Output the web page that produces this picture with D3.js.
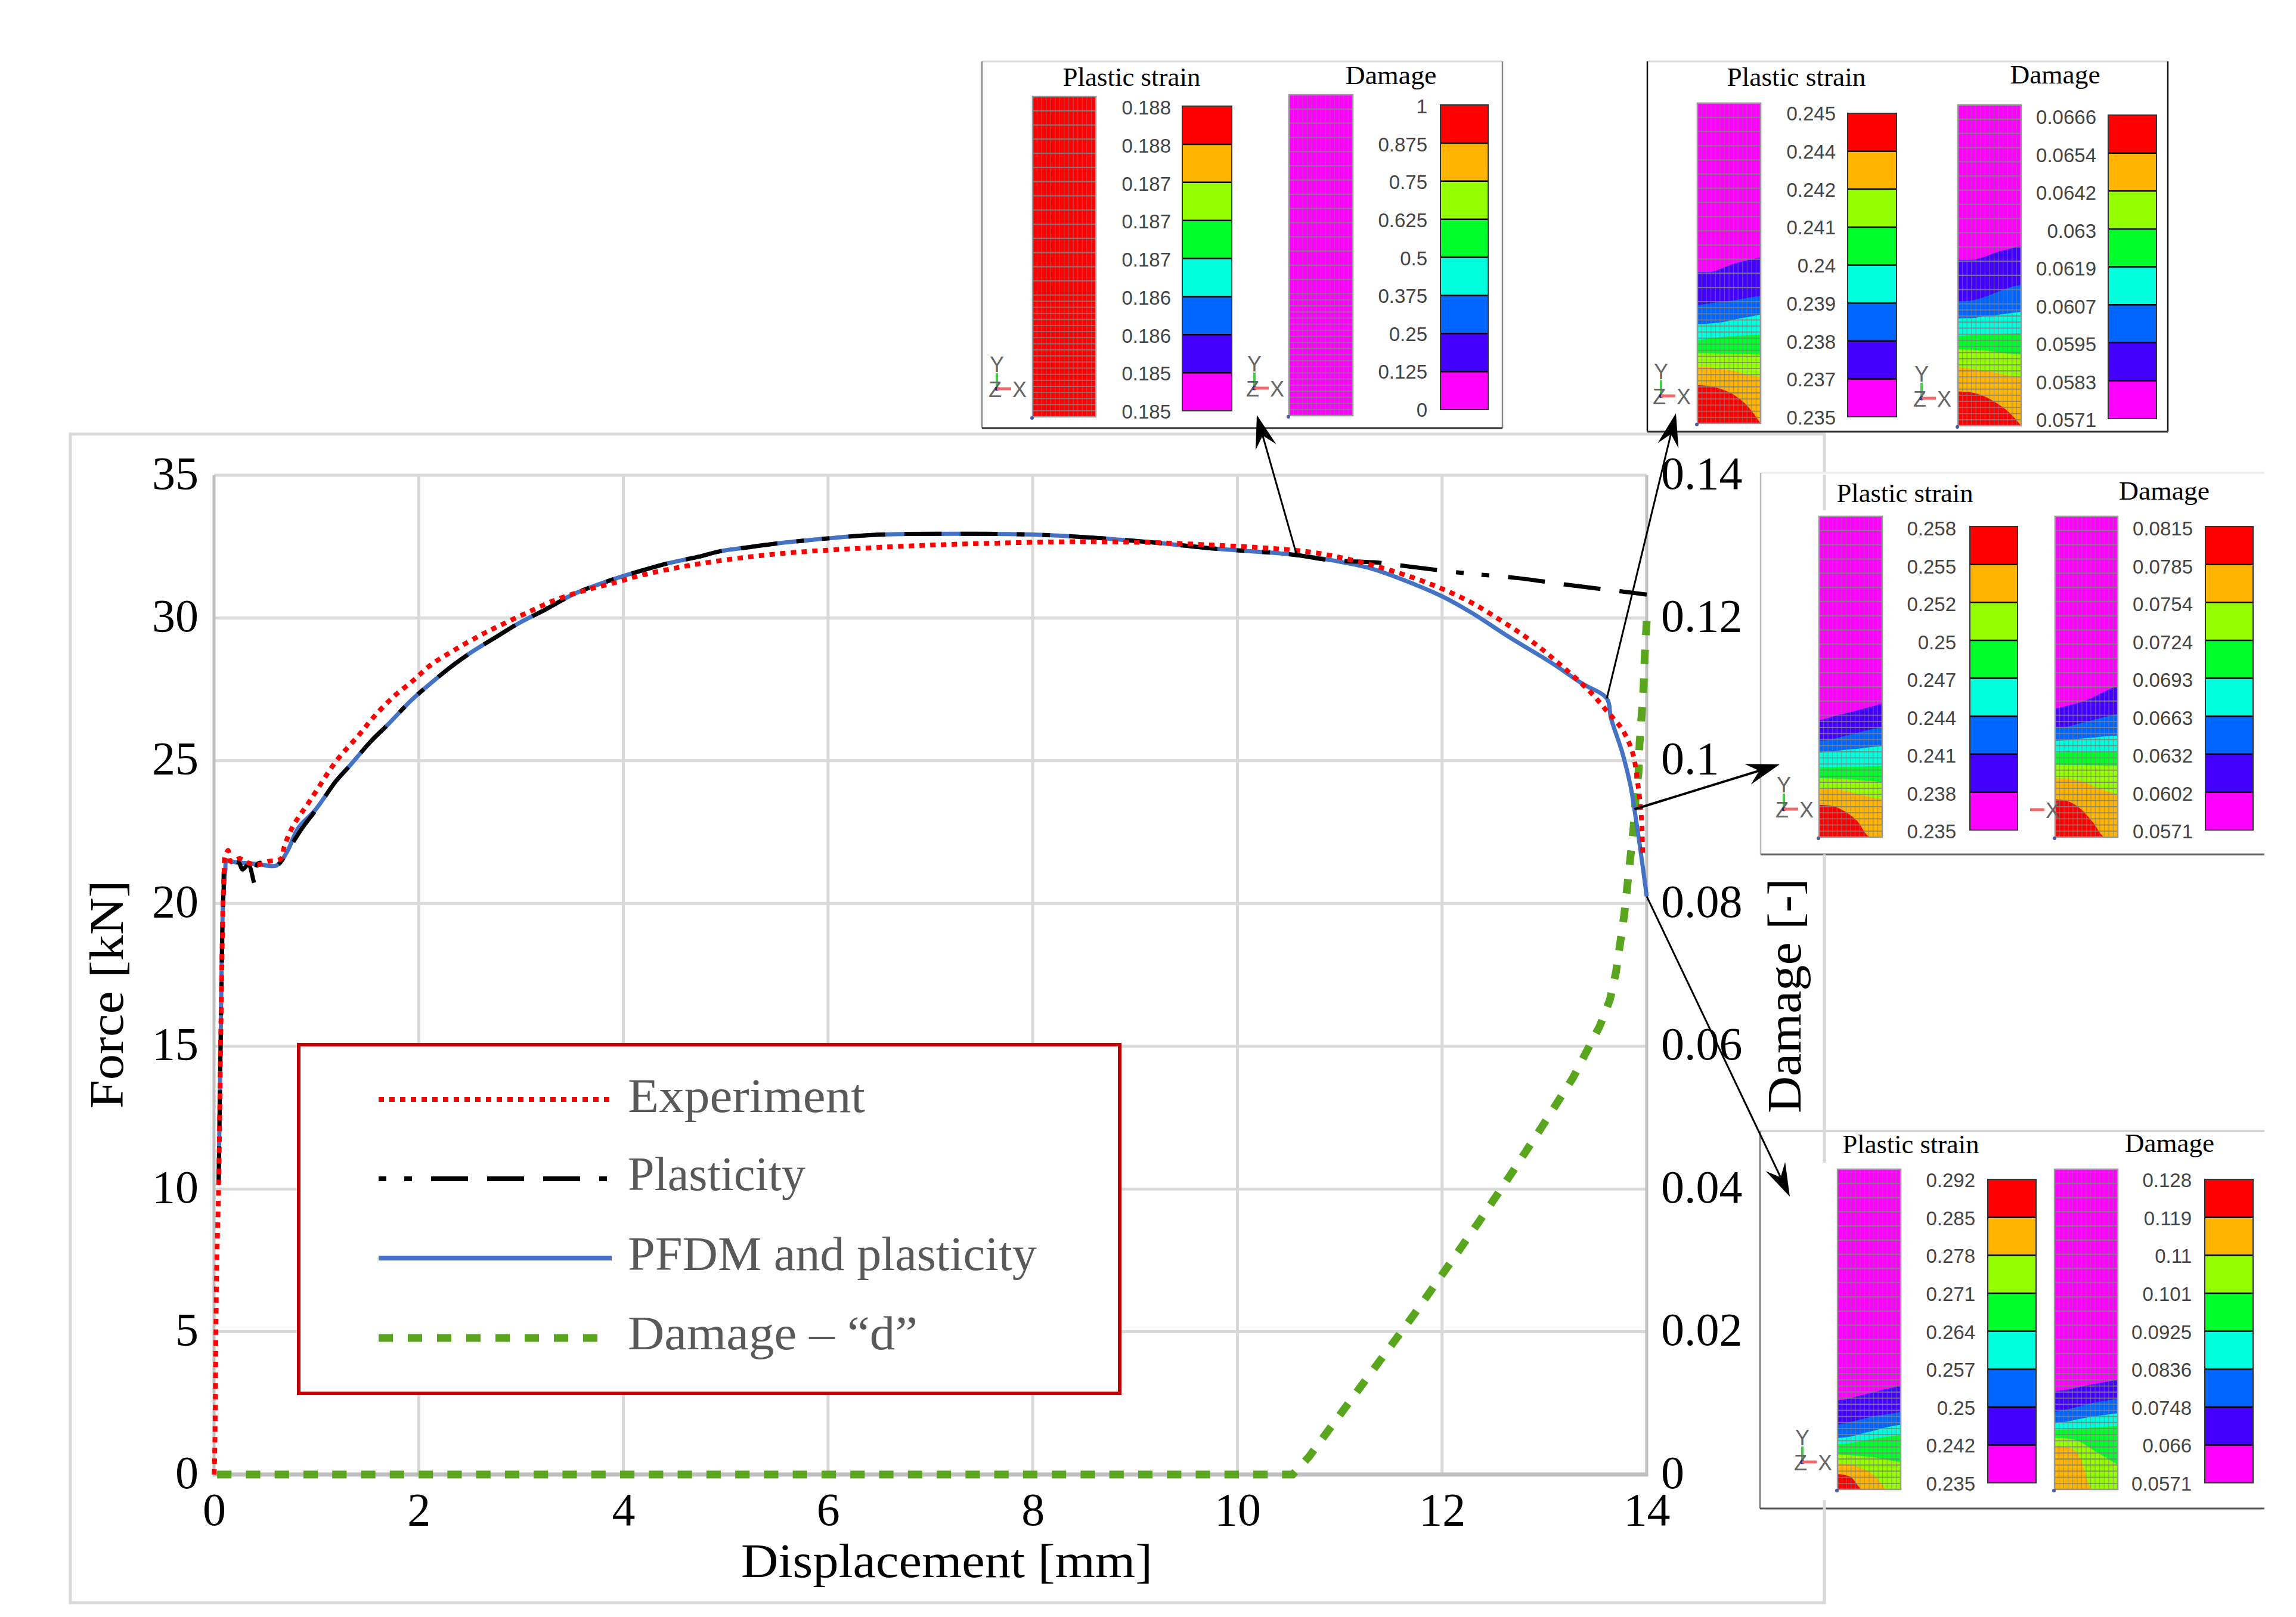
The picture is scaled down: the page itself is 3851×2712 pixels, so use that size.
<!DOCTYPE html>
<html>
<head>
<meta charset="utf-8">
<script src="https://cdn.jsdelivr.net/npm/d3@7"></script>
<style>html,body{margin:0;padding:0;background:#fff}svg{display:block}</style>
</head>
<body>
<svg id="chart" width="3851" height="2712"></svg>
<script>
// ---------- curve data ----------
const expDisp  = [0,.006,.025,.045,.064,.074,.08,.087,.10,.106,.138,.155,.18,.25,.326,.43,.53,.656,.686,.763,.84,.9,.99,1.19,1.42,1.56,1.75,1.94,2.12,2.35,2.6,2.79,3.05,3.35,3.65,3.94,4.17,4.54,4.91,5.28,5.65,6.07,6.85,7.63,8.41,9.19,9.77,10.36,10.75,11.14,11.53,11.92,12.28,12.58,12.87,13.16,13.45,13.62,13.76,13.86,13.92,13.95,13.96];
const expForce = [0,.6,7,10.07,15,17.2,18.6,19.9,21.2,21.64,21.86,21.5,21.46,21.57,21.43,21.36,21.47,21.57,21.99,22.65,23.1,23.4,23.89,24.97,25.92,26.53,27.23,27.79,28.36,28.88,29.39,29.73,30.17,30.65,30.99,31.26,31.49,31.77,31.99,32.16,32.29,32.39,32.53,32.62,32.67,32.64,32.55,32.43,32.29,32.01,31.63,31.14,30.55,29.9,29.2,28.35,27.4,26.7,26.1,25.3,24,22.9,21.75];

const pfdmDisp  = [.045,.064,.087,.11,.122,.24,.43,.61,.715,.82,.99,1.19,1.32,1.53,1.7,1.92,2.1,2.29,2.49,2.76,2.96,3.24,3.53,3.94,4.18,4.43,4.73,4.95,5.25,5.5,5.8,6.07,6.53,7.24,8,8.6,9.19,9.77,10.32,10.58,10.94,11.3,11.73,12.01,12.28,12.67,13.06,13.37,13.61,13.65,13.76,13.84,13.88,13.93,14];
const pfdmForce = [10.2,15,19.9,21.15,21.46,21.43,21.38,21.33,21.82,22.63,23.28,24.28,24.8,25.67,26.27,27.09,27.66,28.22,28.74,29.34,29.78,30.3,30.86,31.4,31.66,31.91,32.14,32.34,32.49,32.61,32.72,32.81,32.92,32.95,32.92,32.81,32.64,32.43,32.29,32.2,32.01,31.74,31.18,30.74,30.2,29.3,28.45,27.7,27.18,26.5,25.3,24.15,23.3,22.1,20.25];

const plastDisp  = [.045,.064,.087,.093,.122,.24,.278,.336,.40,.43,.61,.715,.85,1,1.19,1.32,1.53,1.7,1.92,2.1,2.29,2.49,2.76,2.96,3.24,3.53,3.94,4.18,4.43,4.73,4.95,5.25,5.5,5.8,6.07,6.53,7.24,8,8.6,9.19,9.77,10.32,10.58,10.94,11.33,11.68,12.22,12.73,13.27,13.82,14];
const plastForce = [10.2,15,19.9,20.39,21.46,21.43,21.19,21.36,20.67,21.4,21.33,21.82,22.58,23.3,24.28,24.8,25.67,26.27,27.09,27.66,28.22,28.74,29.34,29.78,30.3,30.86,31.4,31.66,31.91,32.14,32.34,32.49,32.61,32.72,32.81,32.92,32.95,32.92,32.81,32.64,32.43,32.29,32.2,32.01,31.95,31.8,31.57,31.4,31.14,30.9,30.82];

const dmgDisp = [.03,10.54,10.7,11.04,11.37,11.71,12.03,12.36,12.67,12.98,13.28,13.41,13.54,13.64,13.7,13.74,13.78,13.81,13.84,13.87,13.89,13.92,13.93,13.95,13.97,13.98,14];
const dmgVal  = [0,0,.0025,.0091,.0155,.0221,.0286,.0354,.042,.0488,.0556,.0592,.0628,.0665,.0704,.0744,.0784,.0824,.0864,.0904,.0944,.0984,.1024,.1064,.1106,.1146,.1196];

// ---------- axis ticks ----------
const xTicks = [0,2,4,6,8,10,12,14];
const forceTicks = [0,5,10,15,20,25,30,35];
const damageTicks = [0,.02,.04,.06,.08,.1,.12,.14];
const damageTickLabels = ["0","0.02","0.04","0.06","0.08","0.1","0.12","0.14"];

// ---------- legend ----------
const seriesNames = ["Experiment","Plasticity","PFDM and plasticity","Damage \u2013 \u201Cd\u201D"];

// ---------- inset colour keys and values ----------
const bandColors = ["#ff0000","#ffb400","#94ff00","#00ff2a","#00ffdd","#0066ff","#4400ff","#ff00ff"];
const contourColors = ["#4400ff","#0066ff","#00ffdd","#00ff2a","#94ff00","#ffb400","#ff0000"];
const inset1Strain = ["0.188","0.188","0.187","0.187","0.187","0.186","0.186","0.185","0.185"];
const inset1Damage = ["1","0.875","0.75","0.625","0.5","0.375","0.25","0.125","0"];
const inset2Strain = ["0.245","0.244","0.242","0.241","0.24","0.239","0.238","0.237","0.235"];
const inset2Damage = ["0.0666","0.0654","0.0642","0.063","0.0619","0.0607","0.0595","0.0583","0.0571"];
const inset3Strain = ["0.258","0.255","0.252","0.25","0.247","0.244","0.241","0.238","0.235"];
const inset3Damage = ["0.0815","0.0785","0.0754","0.0724","0.0693","0.0663","0.0632","0.0602","0.0571"];
const inset4Strain = ["0.292","0.285","0.278","0.271","0.264","0.257","0.25","0.242","0.235"];
const inset4Damage = ["0.128","0.119","0.11","0.101","0.0925","0.0836","0.0748","0.066","0.0571"];

// contour boundaries: depth down the bar (0 top, 1 bottom) sampled at six stations across it
const contourStations = [0,.2,.4,.6,.8,1];
const inset2StrainContours = [
 [.527,.527,.515,.50,.49,.482],[.631,.625,.62,.615,.608,.602],[.69,.688,.684,.675,.668,.66],
 [.74,.735,.73,.727,.725,.723],[.781,.781,.782,.783,.784,.785],[.823,.825,.83,.838,.848,.856],
 [.881,.884,.895,.914,.948,1]];
const inset2DamageContours = [
 [.483,.483,.475,.46,.45,.438],[.612,.61,.60,.585,.57,.561],[.666,.665,.66,.655,.65,.645],
 [.72,.718,.716,.715,.713,.712],[.762,.763,.765,.77,.775,.778],[.818,.822,.828,.835,.843,.849],
 [.893,.896,.907,.928,.957,1]];
const inset3StrainContours = [
 [.637,.625,.615,.605,.595,.583],[.70,.695,.685,.675,.665,.658],[.737,.733,.728,.725,.72,.716],
 [.782,.782,.78,.78,.779,.778],[.816,.817,.819,.821,.825,.828],[.849,.85,.855,.865,.875,.882],
 [.899,.903,.919,.949,.998,1]];
const inset3DamageContours = [
 [.60,.59,.58,.565,.545,.529],[.658,.655,.645,.635,.625,.616],[.70,.697,.693,.69,.686,.683],
 [.737,.736,.735,.735,.734,.733],[.774,.775,.775,.776,.777,.778],[.816,.818,.825,.84,.855,.866],
 [.882,.888,.911,.953,1,1]];
const inset4StrainContours = [
 [.722,.715,.705,.695,.685,.677],[.798,.79,.78,.77,.765,.758],[.839,.835,.825,.815,.805,.798],
 [.859,.855,.848,.84,.835,.83],[.891,.893,.896,.90,.908,.915],[.919,.923,.935,.96,1,1],
 [.952,.96,1,1,1,1]];
const inset4DamageContours = [
 [.693,.688,.68,.672,.665,.657],[.758,.75,.74,.73,.723,.717],[.794,.788,.78,.773,.767,.762],
 [.814,.812,.81,.807,.804,.802],[.839,.841,.851,.875,.899,.923],[.863,.868,.899,1,1,1]];

// ---------- layout ----------
const svg = d3.select("#chart");
const serif = "'Liberation Serif', serif", sans = "'Liberation Sans', Arial, sans-serif";
const X0 = 359, X1 = 2762, Y0 = 2473, Y1 = 797;
const x = d3.scaleLinear().domain([0,14]).range([X0,X1]);
const yF = d3.scaleLinear().domain([0,35]).range([Y0,Y1]);
const yD = d3.scaleLinear().domain([0,.14]).range([Y0,Y1]);

// outer frame
svg.append("rect").attr("x",118).attr("y",728).attr("width",2942).attr("height",1960)
  .attr("fill","none").attr("stroke","#d9d9d9").attr("stroke-width",5);

// grid
const grid = svg.append("g").attr("stroke","#d9d9d9").attr("stroke-width",5);
grid.selectAll(".gh").data(forceTicks.slice(1)).join("line")
  .attr("x1",X0).attr("x2",X1).attr("y1",d=>yF(d)).attr("y2",d=>yF(d));
grid.selectAll(".gv").data(xTicks.slice(1,-1)).join("line")
  .attr("y1",Y0).attr("y2",Y1).attr("x1",d=>x(d)).attr("x2",d=>x(d));
// axis lines
const axisLines = svg.append("g").attr("stroke","#bfbfbf");
axisLines.append("line").attr("x1",X0).attr("x2",X0).attr("y1",Y1).attr("y2",Y0+3).attr("stroke-width",5);
axisLines.append("line").attr("x1",X1).attr("x2",X1).attr("y1",Y1).attr("y2",Y0+3).attr("stroke-width",5);
axisLines.append("line").attr("x1",X0-2).attr("x2",X1+2).attr("y1",Y0).attr("y2",Y0).attr("stroke-width",7);

function styleAxis(g, fn){
  g.select(".domain").remove();
  g.selectAll(".tick line").remove();
  g.selectAll("text").attr("dy",null).attr("fill","#000").style("font-family",serif).style("font-size","78px");
  fn(g.selectAll("text"));
}
svg.append("g").attr("transform",`translate(0,${Y0})`)
  .call(d3.axisBottom(x).tickValues(xTicks).tickFormat(d3.format("d")))
  .call(g=>styleAxis(g,t=>t.attr("y",85)));
svg.append("g").attr("transform",`translate(333,0)`)
  .call(d3.axisLeft(yF).tickValues(forceTicks).tickFormat(d3.format("d")).tickSize(0).tickPadding(0))
  .call(g=>styleAxis(g,t=>t.attr("x",0).attr("y",22)));
svg.append("g").attr("transform",`translate(2786,0)`)
  .call(d3.axisRight(yD).tickValues(damageTicks).tickFormat((d,i)=>damageTickLabels[i]).tickSize(0).tickPadding(0))
  .call(g=>styleAxis(g,t=>t.attr("x",0).attr("y",22)));

// axis titles
function label(txt,x0,y0,len,size,opts={}){
  const t = svg.append("text").attr("x",x0).attr("y",y0).text(txt)
    .attr("fill",opts.fill||"#000").attr("text-anchor",opts.anchor||"middle")
    .style("font-family",opts.family||serif).style("font-size",size+"px");
  if(len) t.attr("textLength",len).attr("lengthAdjust","spacingAndGlyphs");
  if(opts.rotate) t.attr("transform",`rotate(-90 ${x0} ${y0})`);
  return t;
}
label("Displacement [mm]",1588,2645,690,80);
label("Force [kN]",206,1668,383,80,{rotate:true});
label("Damage [-]",3020,1670,394,80,{rotate:true});

// series
const pts = (a,b)=>a.map((d,i)=>[d,b[i]]);
const lineF = d3.line().x(d=>x(d[0])).y(d=>yF(d[1])).curve(d3.curveCatmullRom.alpha(.5));
const lineD = d3.line().x(d=>x(d[0])).y(d=>yD(d[1]));
const blackDash = "62 32 62 32 62 32 13 30 13 32";
const damagePath = svg.append("path").attr("d",lineD(pts(dmgDisp,dmgVal))).attr("fill","none")
  .attr("stroke","#5aa51e").attr("stroke-width",13);
// fit the 24-on / 24-off dash so that a dash also closes the line, as in the reference
const damageLen = damagePath.node().getTotalLength();
const damagePeriod = (damageLen+24)/Math.round((damageLen+24)/48);
damagePath.attr("stroke-dasharray",`${damagePeriod/2} ${damagePeriod/2}`);
svg.append("path").attr("d",lineF(pts(pfdmDisp,pfdmForce))).attr("fill","none")
  .attr("stroke","#4472c4").attr("stroke-width",7);
svg.append("path").attr("d",lineF(pts(plastDisp,plastForce))).attr("fill","none")
  .attr("stroke","#000").attr("stroke-width",7).attr("stroke-dasharray",blackDash);
svg.append("path").attr("d",lineF(pts(expDisp,expForce))).attr("fill","none")
  .attr("stroke","#ff0000").attr("stroke-width",8).attr("stroke-dasharray","9 9");

// legend
svg.append("rect").attr("x",501).attr("y",1752).attr("width",1377).attr("height",585)
  .attr("fill","#fff").attr("stroke","#c00000").attr("stroke-width",6);
const legendY = [1844,1977,2110,2244];
const legendBase = [1865,1996,2130,2263];
const legendLen = [398,298,686,486];
const legendStroke = [
  {c:"#ff0000",w:8,d:"9 9",o:0},{c:"#000",w:8,d:blackDash,o:282},
  {c:"#4472c4",w:8,d:null,o:0},{c:"#5aa51e",w:13,d:"24 25",o:0}];
seriesNames.forEach((n,i)=>{
  const s = legendStroke[i];
  svg.append("line").attr("x1",635).attr("x2",1026).attr("y1",legendY[i]).attr("y2",legendY[i])
    .attr("stroke",s.c).attr("stroke-width",s.w).attr("stroke-dasharray",s.d).attr("stroke-dashoffset",s.o);
  label(n,1053,legendBase[i],legendLen[i],80,{anchor:"start",fill:"#595959"});
});

// ---------- insets ----------
const rowSplit = .62;
function mesh(g, m){
  const mx = d3.scaleLinear().domain([0,1]).range([m.x0,m.x1]);
  const my = d3.scaleLinear().domain([0,1]).range([m.y0,m.y1]);
  g.append("rect").attr("x",mx(0)).attr("y",my(0)).attr("width",mx(1)-mx(0)).attr("height",my(1)-my(0)).attr("fill",m.base);
  const area = d3.line().x(d=>mx(d[0])).y(d=>my(d[1])).curve(d3.curveMonotoneX);
  (m.contours||[]).forEach((c,i)=>{
    const top = area(contourStations.map((s,j)=>[s,c[j]]));
    g.append("path").attr("d",top+`L${mx(1)},${my(1)}L${mx(0)},${my(1)}Z`).attr("fill",contourColors[i]);
  });
  const cols = d3.range(1,14).map(i=>i/14);
  g.selectAll(null).data(cols).join("line")
    .attr("x1",d=>mx(d)).attr("x2",d=>mx(d)).attr("y1",my(0)).attr("y2",my(1))
    .attr("stroke","#808080").attr("stroke-opacity",.55).attr("stroke-width",1.3);
  const rows = d3.range(1,14).map(i=>i/14*rowSplit).concat(d3.range(0,20).map(i=>rowSplit+i/20*(1-rowSplit)));
  g.selectAll(null).data(rows).join("line")
    .attr("x1",mx(0)).attr("x2",mx(1)).attr("y1",d=>my(d)).attr("y2",d=>my(d))
    .attr("stroke","#808080").attr("stroke-opacity",.85).attr("stroke-width",d=>d<rowSplit?2.2:1.8);
  g.append("rect").attr("x",mx(0)).attr("y",my(0)).attr("width",mx(1)-mx(0)).attr("height",my(1)-my(0))
    .attr("fill","none").attr("stroke","#999").attr("stroke-width",2.5);
  g.append("circle").attr("cx",mx(0)-1).attr("cy",my(1)+2).attr("r",3).attr("fill","#4a5aa8");
}
function colorKey(g, k, labels){
  const ky = d3.scaleBand().domain(d3.range(bandColors.length)).range([k.y0,k.y1]);
  g.selectAll(null).data(bandColors).join("rect")
    .attr("x",k.x0).attr("width",k.x1-k.x0).attr("y",(d,i)=>ky(i)).attr("height",ky.bandwidth()).attr("fill",d=>d);
  g.selectAll(null).data(d3.range(1,bandColors.length)).join("line")
    .attr("x1",k.x0).attr("x2",k.x1).attr("y1",d=>ky(d)).attr("y2",d=>ky(d)).attr("stroke","#000").attr("stroke-width",2.5);
  g.append("rect").attr("x",k.x0).attr("y",k.y0).attr("width",k.x1-k.x0).attr("height",k.y1-k.y0)
    .attr("fill","none").attr("stroke","#333").attr("stroke-width",2);
  const ly = d3.scalePoint().domain(d3.range(labels.length)).range([k.ly0,k.ly1]);
  g.selectAll(null).data(labels).join("text").text(d=>d)
    .attr("x",k.lx).attr("y",(d,i)=>ly(i)+12).attr("text-anchor","end").attr("fill","#444")
    .style("font-family",sans).style("font-size","33px");
}
function triad(g, t){
  const a = (txt,xx,yy,size)=>g.append("text").text(txt).attr("x",xx).attr("y",yy).attr("text-anchor","middle")
    .attr("fill","#666").style("font-family",sans).style("font-size",(size||36)+"px");
  if(t.full){
    g.append("line").attr("x1",t.x).attr("x2",t.x).attr("y1",t.y).attr("y2",t.y-26).attr("stroke","#3fd13f").attr("stroke-width",4);
    a("Y",t.x,t.y-28);
    a("Z",t.x-3,t.y+14);
    g.append("circle").attr("cx",t.x).attr("cy",t.y).attr("r",3.5).attr("fill","#223388");
  }
  g.append("line").attr("x1",t.x).attr("x2",t.x+24).attr("y1",t.y).attr("y2",t.y).attr("stroke","#f06a6a").attr("stroke-width",5);
  a("X",t.x+38,t.y+14);
}
const insets = [
 {frame:{x0:1647,x1:2520,y0:103,y1:718},edge:{l:"#888",r:"#888",t:"#dcdcdc",b:"#333"},
  titles:[{t:"Plastic strain",x:1898,y:144,len:231},{t:"Damage",x:2333,y:141,len:153}],
  meshes:[{x0:1732,x1:1838,y0:162,y1:699,base:"#ff0000"},{x0:2162,x1:2269,y0:159,y1:697,base:"#ff00ff"}],
  keys:[{x0:1983,x1:2066,y0:178,y1:689,lx:1964,ly0:180,ly1:690,labels:inset1Strain},
        {x0:2416,x1:2496,y0:176,y1:687,lx:2394,ly0:178,ly1:687,labels:inset1Damage}],
  triads:[{x:1672,y:652,full:true},{x:2104,y:651,full:true}]},
 {frame:{x0:2763,x1:3636,y0:103,y1:724},edge:{l:"#111",r:"#111",t:"#dcdcdc",b:"#333"},
  titles:[{t:"Plastic strain",x:3013,y:144,len:233},{t:"Damage",x:3447,y:140,len:151}],
  meshes:[{x0:2847,x1:2953,y0:173,y1:710,base:"#ff00ff",contours:inset2StrainContours},
          {x0:3284,x1:3390,y0:176,y1:714,base:"#ff00ff",contours:inset2DamageContours}],
  keys:[{x0:3099,x1:3181,y0:190,y1:699,lx:3079,ly0:190,ly1:700,labels:inset2Strain},
        {x0:3536,x1:3617,y0:193,y1:702,lx:3516,ly0:196,ly1:704,labels:inset2Damage}],
  triads:[{x:2786,y:664,full:true},{x:3223,y:668,full:true}]},
 {frame:{x0:2953,x1:3798,y0:793,y1:1433},edge:{l:"#bbb",r:null,t:"#ececec",b:"#666"},
  titles:[{t:"Plastic strain",x:3195,y:842,len:229},{t:"Damage",x:3630,y:838,len:152}],
  meshes:[{x0:3051,x1:3157,y0:866,y1:1404,base:"#ff00ff",contours:inset3StrainContours},
          {x0:3447,x1:3552,y0:866,y1:1404,base:"#ff00ff",contours:inset3DamageContours}],
  keys:[{x0:3304,x1:3384,y0:883,y1:1392,lx:3281,ly0:886,ly1:1394,labels:inset3Strain},
        {x0:3699,x1:3779,y0:883,y1:1392,lx:3678,ly0:886,ly1:1394,labels:inset3Damage}],
  triads:[{x:2992,y:1357,full:true},{x:3405,y:1358,full:false}]},
 {frame:{x0:2952,x1:3798,y0:1897,y1:2530},edge:{l:"#777",r:null,t:"#ccc",b:"#555"},
  titles:[{t:"Plastic strain",x:3205,y:1934,len:229},{t:"Damage",x:3639,y:1932,len:150}],
  meshes:[{x0:3082,x1:3188,y0:1961,y1:2498,base:"#ff00ff",contours:inset4StrainContours},
          {x0:3446,x1:3552,y0:1961,y1:2498,base:"#ff00ff",contours:inset4DamageContours}],
  keys:[{x0:3334,x1:3415,y0:1978,y1:2487,lx:3313,ly0:1979,ly1:2488,labels:inset4Strain},
        {x0:3698,x1:3779,y0:1978,y1:2487,lx:3676,ly0:1979,ly1:2488,labels:inset4Damage}],
  triads:[{x:3023,y:2452,full:true}]}
];
insets.forEach(p=>{
  const g = svg.append("g"), f = p.frame;
  g.append("rect").attr("x",f.x0).attr("y",f.y0).attr("width",f.x1-f.x0).attr("height",f.y1-f.y0).attr("fill","#fff");
  const seg = (a,b,c,d,col,w)=>{ if(col) g.append("line").attr("x1",a).attr("y1",b).attr("x2",c).attr("y2",d).attr("stroke",col).attr("stroke-width",w); };
  seg(f.x0,f.y0,f.x1,f.y0,p.edge.t,3);
  seg(f.x0,f.y0,f.x0,f.y1,p.edge.l,2.5);
  seg(f.x1,f.y0,f.x1,f.y1,p.edge.r,2.5);
  seg(f.x0,f.y1,f.x1,f.y1,p.edge.b,3);
  p.titles.forEach(t=>g.append("text").text(t.t).attr("x",t.x).attr("y",t.y).attr("text-anchor","middle")
    .attr("textLength",t.len).attr("lengthAdjust","spacingAndGlyphs").attr("fill","#000")
    .style("font-family",serif).style("font-size","44px"));
  p.meshes.forEach(m=>mesh(g.append("g"),m));
  p.keys.forEach(k=>colorKey(g.append("g"),k,k.labels));
  p.triads.forEach(t=>triad(g.append("g"),t));
});
// outer frame segments that show above the insets
[[3060,796,856],[3060,1433,1950],[3060,2516,2688]].forEach(s=>
  svg.append("line").attr("x1",s[0]).attr("x2",s[0]).attr("y1",s[1]).attr("y2",s[2]).attr("stroke","#d9d9d9").attr("stroke-width",5));

// ---------- callout arrows (tail on the PFDM curve, head on the inset) ----------
const arrowTailDisp = [10.58,13.61,13.88,14];
const arrowTailForce = [32.2,27.18,23.3,20.25];
const arrowHeads = [[2108,696],[2811,693],[2985,1282],[3002,2007]];
const arrowWidths = [3,3,4,3];
arrowHeads.forEach((h,i)=>{
  const tx = x(arrowTailDisp[i]), ty = yF(arrowTailForce[i]);
  const a = Math.atan2(h[1]-ty,h[0]-tx), L = 56, W = 18, N = 36;
  const ux = Math.cos(a), uy = Math.sin(a);
  const P = (l,s)=>[h[0]-ux*l-uy*s,h[1]-uy*l+ux*s];
  const head = [P(0,0),P(L,W),P(N,0),P(L,-W)];
  svg.append("line").attr("x1",tx).attr("y1",ty).attr("x2",P(N,0)[0]).attr("y2",P(N,0)[1])
    .attr("stroke","#000").attr("stroke-width",arrowWidths[i]);
  svg.append("path").attr("d",d3.line()(head)+"Z").attr("fill","#000");
});
</script>
</body>
</html>
